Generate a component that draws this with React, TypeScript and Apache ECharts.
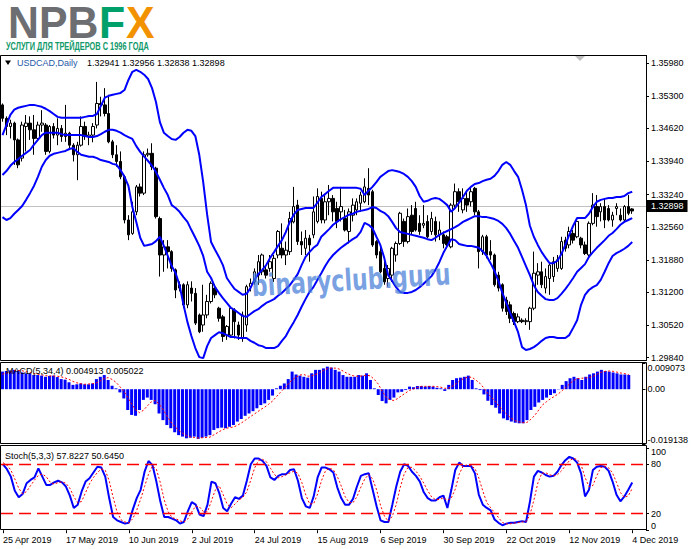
import React, { useEffect, useRef } from "react";
import * as echarts from "echarts";

const FONT = '"Liberation Sans", Arial, sans-serif';
const MONTHS = ["Jan", "Feb", "Mar", "Apr", "May", "Jun", "Jul", "Aug", "Sep", "Oct", "Nov", "Dec"];
const BAR_COUNT = 161;
const EMPTY_SLOTS = 3;
const EXTRA_SESSION = "3 Nov 2019"; // broker Sunday bar (DST switch)

const PRICE_TICKS = [1.2984, 1.3052, 1.312, 1.3188, 1.3256, 1.3324, 1.3394, 1.3462, 1.353, 1.3598];
const MACD_TICKS = [-0.019138, 0, 0.009073];
const MACD_TICK_LABELS = ["-0.019138", "0.00", "0.009073"];
const STOCH_TICKS = [0, 20, 80, 100];
const LAST_PRICE = 1.32898;

const opens = [
  1.3511, 1.3483, 1.3466, 1.3473, 1.3438, 1.34, 1.3466, 1.3473, 1.3459, 1.3441,
  1.3469, 1.3469, 1.3414, 1.3466, 1.3448, 1.3462, 1.3445, 1.3452, 1.3427, 1.3407,
  1.3427, 1.3466, 1.3445, 1.3448, 1.3469, 1.3514, 1.3511, 1.3493, 1.3434, 1.3407,
  1.3393, 1.3361, 1.3271, 1.3243, 1.3288, 1.334, 1.3327, 1.3407, 1.341, 1.3379,
  1.3274, 1.3198, 1.3215, 1.3205, 1.3167, 1.3129, 1.3136, 1.3094, 1.3129, 1.3118,
  1.3073, 1.3052, 1.3073, 1.3101, 1.3129, 1.3087, 1.3069, 1.3031, 1.3031, 1.3083,
  1.3052, 1.3024, 1.3052, 1.3132, 1.3142, 1.3156, 1.3163, 1.3167, 1.317, 1.3149,
  1.3198, 1.3212, 1.3198, 1.3205, 1.3267, 1.3302, 1.3226, 1.3212, 1.3233, 1.324,
  1.3268, 1.3316, 1.3271, 1.3309, 1.3316, 1.3295, 1.3288, 1.3274, 1.3247, 1.3281,
  1.3292, 1.3306, 1.3309, 1.3337, 1.333, 1.3226, 1.3205, 1.317, 1.3149, 1.3156,
  1.3198, 1.3222, 1.3268, 1.3226, 1.3281, 1.3295, 1.3264, 1.326, 1.3268, 1.3247,
  1.3268, 1.324, 1.324, 1.3236, 1.3215, 1.3302, 1.333, 1.3292, 1.3316, 1.3309,
  1.3337, 1.3288, 1.3205, 1.3236, 1.3205, 1.3198, 1.3156, 1.3136, 1.3104, 1.3094,
  1.3076, 1.3059, 1.3062, 1.3059, 1.3059, 1.3087, 1.3156, 1.3163, 1.3129, 1.3149,
  1.3153, 1.317, 1.317, 1.3229, 1.3219, 1.3243, 1.3236, 1.3233, 1.3219, 1.3198,
  1.3264, 1.3299, 1.3288, 1.3299, 1.3295, 1.3271, 1.3295, 1.3281, 1.3271, 1.3299,
  1.32941,
];
const closes = [
  1.3483, 1.3466, 1.3473, 1.3438, 1.3386, 1.3469, 1.3473, 1.3459, 1.3441, 1.3469,
  1.3473, 1.3414, 1.3466, 1.3448, 1.3462, 1.3445, 1.3452, 1.3427, 1.3407, 1.3427,
  1.3466, 1.3445, 1.3448, 1.3466, 1.3514, 1.3511, 1.3493, 1.3434, 1.3407, 1.3393,
  1.3361, 1.3271, 1.324, 1.3288, 1.334, 1.3327, 1.3407, 1.341, 1.3382, 1.3278,
  1.3198, 1.3215, 1.3205, 1.317, 1.3125, 1.3136, 1.3094, 1.3136, 1.3118, 1.3056,
  1.3038, 1.3073, 1.3101, 1.3139, 1.3115, 1.3066, 1.3028, 1.3049, 1.3087, 1.3059,
  1.3031, 1.3073, 1.3132, 1.3139, 1.3163, 1.3184, 1.3198, 1.3156, 1.3184, 1.3191,
  1.3247, 1.3198, 1.3208, 1.3274, 1.3299, 1.3226, 1.3219, 1.3233, 1.3219, 1.3288,
  1.332, 1.3271, 1.3309, 1.3316, 1.3288, 1.3268, 1.3299, 1.325, 1.3288, 1.3302,
  1.3309, 1.3323, 1.334, 1.3323, 1.3219, 1.3198, 1.3163, 1.3142, 1.317, 1.3212,
  1.3222, 1.3285, 1.3226, 1.3278, 1.3247, 1.325, 1.3247, 1.3264, 1.3236, 1.3274,
  1.324, 1.325, 1.3222, 1.3219, 1.3302, 1.333, 1.3309, 1.3316, 1.3302, 1.333,
  1.3288, 1.3205, 1.3236, 1.3198, 1.3198, 1.3136, 1.3129, 1.3087, 1.308, 1.3066,
  1.3059, 1.3069, 1.3059, 1.3061, 1.3087, 1.316, 1.3163, 1.3136, 1.3153, 1.3177,
  1.3184, 1.3188, 1.3226, 1.3212, 1.3247, 1.3229, 1.3268, 1.3219, 1.3201, 1.3264,
  1.3302, 1.3278, 1.3299, 1.3271, 1.3271, 1.3281, 1.3299, 1.3271, 1.3299, 1.3285,
  1.32898,
];
const lows = [
  1.3476, 1.3448, 1.3441, 1.3386, 1.3379, 1.3393, 1.3414, 1.3438, 1.3407, 1.3438,
  1.3455, 1.3407, 1.341, 1.3441, 1.3427, 1.3434, 1.3434, 1.342, 1.3393, 1.3354,
  1.3424, 1.3438, 1.3427, 1.3433, 1.3462, 1.3487, 1.3487, 1.3431, 1.34, 1.3382,
  1.3356, 1.3264, 1.3229, 1.324, 1.3281, 1.332, 1.3323, 1.3403, 1.3375, 1.3274,
  1.3153, 1.3163, 1.317, 1.3163, 1.3108, 1.3122, 1.3087, 1.3087, 1.3101, 1.3052,
  1.3035, 1.3038, 1.3066, 1.3097, 1.3108, 1.3059, 1.3017, 1.3021, 1.3028, 1.3024,
  1.3021, 1.3017, 1.3038, 1.3122, 1.3136, 1.3136, 1.3156, 1.3149, 1.3163, 1.3142,
  1.3191, 1.3191, 1.3177, 1.3198, 1.3264, 1.3219, 1.3198, 1.3198, 1.3184, 1.3233,
  1.3264, 1.3264, 1.3264, 1.3281, 1.3268, 1.3254, 1.3268, 1.3247, 1.3222, 1.3268,
  1.3281, 1.3288, 1.3306, 1.3302, 1.3215, 1.3191, 1.316, 1.3136, 1.3132, 1.3142,
  1.3184, 1.3219, 1.3215, 1.3222, 1.324, 1.3247, 1.324, 1.3254, 1.3233, 1.324,
  1.3226, 1.3229, 1.3212, 1.3212, 1.3212, 1.3295, 1.3288, 1.3285, 1.3288, 1.3299,
  1.3281, 1.317, 1.3198, 1.3191, 1.3188, 1.3132, 1.3122, 1.308, 1.3073, 1.3056,
  1.3052, 1.3056, 1.3056, 1.3052, 1.3042, 1.3083, 1.3136, 1.3129, 1.3118, 1.3115,
  1.3142, 1.3163, 1.3167, 1.3205, 1.3212, 1.3222, 1.3233, 1.3212, 1.3198, 1.3191,
  1.326, 1.3257, 1.3268, 1.3254, 1.3268, 1.3257, 1.3281, 1.3268, 1.3268, 1.3281,
  1.32838,
];
const highs = [
  1.3514, 1.3487, 1.348, 1.3476, 1.3441, 1.3476, 1.349, 1.3487, 1.349, 1.3476,
  1.35, 1.3473, 1.3469, 1.3473, 1.3483, 1.3469, 1.3511, 1.3455, 1.3431, 1.3434,
  1.3487, 1.3476, 1.3455, 1.3473, 1.3559, 1.3528, 1.3546, 1.3532, 1.3438, 1.3427,
  1.3414, 1.3365, 1.3281, 1.3309, 1.3344, 1.3347, 1.3414, 1.342, 1.3431, 1.3382,
  1.3278, 1.3229, 1.3229, 1.3208, 1.317, 1.3143, 1.3139, 1.3143, 1.3143, 1.3129,
  1.3076, 1.3136, 1.3115, 1.3143, 1.3136, 1.309, 1.3073, 1.3052, 1.309, 1.3087,
  1.3059, 1.308, 1.3136, 1.3149, 1.317, 1.3198, 1.3201, 1.3177, 1.3198, 1.3198,
  1.325, 1.3264, 1.3226, 1.3288, 1.334, 1.3313, 1.3247, 1.325, 1.324, 1.332,
  1.3337, 1.333, 1.3326, 1.3344, 1.3323, 1.3309, 1.334, 1.3292, 1.3295, 1.3316,
  1.3316, 1.333, 1.3358, 1.3379, 1.3334, 1.3229, 1.3215, 1.3191, 1.3177, 1.3215,
  1.3226, 1.3288, 1.3274, 1.3295, 1.3302, 1.3309, 1.3281, 1.3302, 1.3281, 1.3288,
  1.3278, 1.3268, 1.3247, 1.324, 1.3306, 1.3347, 1.3337, 1.3337, 1.333, 1.334,
  1.334, 1.3292, 1.324, 1.324, 1.3229, 1.3201, 1.3163, 1.3139, 1.3111, 1.3101,
  1.308, 1.3076, 1.3066, 1.3066, 1.309, 1.3205, 1.3181, 1.3184, 1.317, 1.3181,
  1.3194, 1.3198, 1.3236, 1.3236, 1.3257, 1.325, 1.3271, 1.3236, 1.3226, 1.3268,
  1.3327, 1.3323, 1.3306, 1.3316, 1.3302, 1.3288, 1.3306, 1.3295, 1.3302, 1.3323,
  1.32956,
];

const bandUpper = [
  1.3448, 1.3469, 1.349, 1.3501, 1.3505, 1.3507, 1.3509, 1.3511, 1.3511, 1.3509,
  1.3507, 1.3503, 1.3498, 1.3492, 1.3486, 1.3484, 1.3484, 1.3484, 1.3484, 1.3484,
  1.3484, 1.3486, 1.3488, 1.3488, 1.3492, 1.3509, 1.3526, 1.353, 1.3532, 1.3534,
  1.3536, 1.3542, 1.3563, 1.358, 1.3584, 1.358, 1.3574, 1.3565, 1.3546, 1.3517,
  1.3475, 1.3453, 1.3446, 1.344, 1.3438, 1.3444, 1.3453, 1.3459, 1.3457, 1.3446,
  1.3407, 1.335, 1.3282, 1.3225, 1.3209, 1.3194, 1.3177, 1.315, 1.3138, 1.3127,
  1.3121, 1.3115, 1.3117, 1.3129, 1.3146, 1.3158, 1.3167, 1.3177, 1.3192, 1.3204,
  1.3217, 1.3229, 1.3246, 1.3267, 1.3282, 1.3292, 1.3294, 1.3296, 1.3296, 1.3296,
  1.3307, 1.3319, 1.3325, 1.3332, 1.3338, 1.3338, 1.3338, 1.3338, 1.3338, 1.3338,
  1.3338, 1.3336, 1.3323, 1.3332, 1.334, 1.335, 1.3361, 1.3367, 1.3373, 1.3375,
  1.3373, 1.3371, 1.3367, 1.3361, 1.3352, 1.334, 1.3321, 1.3309, 1.3311, 1.3315,
  1.3317, 1.3315, 1.3309, 1.3302, 1.3288, 1.3296, 1.3307, 1.3319, 1.3332, 1.334,
  1.3346, 1.3348, 1.3352, 1.3355, 1.3357, 1.3363, 1.3373, 1.3386, 1.3392, 1.3386,
  1.3373, 1.3361, 1.3334, 1.3302, 1.3259, 1.3236, 1.3219, 1.3204, 1.3192, 1.3181,
  1.3181, 1.3186, 1.32, 1.3219, 1.324, 1.3259, 1.3275, 1.3275, 1.3275, 1.3284,
  1.3298, 1.3309, 1.3313, 1.3315, 1.3317, 1.3317, 1.3319, 1.3319, 1.3321, 1.3327,
  1.333,
];
const bandMiddle = [
  1.3365, 1.3373, 1.3384, 1.3392, 1.3398, 1.3405, 1.3411, 1.3417, 1.3428, 1.3438,
  1.3448, 1.3453, 1.3453, 1.3453, 1.3453, 1.345, 1.3448, 1.3448, 1.3448, 1.3448,
  1.3448, 1.3446, 1.3444, 1.3444, 1.3446, 1.345, 1.3455, 1.3459, 1.3459, 1.3457,
  1.3453, 1.3448, 1.3444, 1.344, 1.3425, 1.3413, 1.3403, 1.3394, 1.3384, 1.3371,
  1.3355, 1.3338, 1.3323, 1.3302, 1.3296, 1.3288, 1.3277, 1.3267, 1.325, 1.3234,
  1.3217, 1.3196, 1.3163, 1.315, 1.3131, 1.3119, 1.3108, 1.3098, 1.3088, 1.3083,
  1.3077, 1.3071, 1.3069, 1.3075, 1.3081, 1.3085, 1.3092, 1.3098, 1.3102, 1.3106,
  1.3113, 1.3119, 1.3127, 1.3135, 1.3146, 1.3158, 1.3177, 1.3194, 1.3204, 1.3213,
  1.3219, 1.3236, 1.3244, 1.3252, 1.3261, 1.3267, 1.3273, 1.3277, 1.3282, 1.3284,
  1.3288, 1.329, 1.3292, 1.3294, 1.3298, 1.3296, 1.329, 1.3286, 1.3279, 1.3267,
  1.3254, 1.3246, 1.3244, 1.3242, 1.324, 1.3238, 1.3236, 1.3234, 1.3231, 1.3229,
  1.3234, 1.324, 1.3244, 1.3248, 1.3252, 1.3256, 1.3261, 1.3267, 1.3271, 1.3275,
  1.3279, 1.3279, 1.3277, 1.3277, 1.3275, 1.3273, 1.3269, 1.3263, 1.3254, 1.3242,
  1.3227, 1.3213, 1.3194, 1.3175, 1.3156, 1.3135, 1.3121, 1.3113, 1.3106, 1.3104,
  1.3104, 1.3108, 1.3117, 1.3127, 1.3138, 1.315, 1.3163, 1.3171, 1.3179, 1.3194,
  1.3204, 1.3213, 1.3221, 1.3229, 1.3238, 1.3244, 1.3252, 1.3261, 1.3267, 1.3271,
  1.3275,
];
const bandLower = [
  1.3277, 1.3271, 1.3275, 1.3284, 1.3292, 1.33, 1.3313, 1.3327, 1.3342, 1.3361,
  1.3382, 1.3396, 1.3405, 1.3409, 1.3411, 1.3413, 1.3415, 1.3419, 1.3421, 1.3413,
  1.3407, 1.3405, 1.3403, 1.3403, 1.34, 1.3396, 1.3394, 1.3392, 1.3388, 1.3386,
  1.3375, 1.3361, 1.3342, 1.3298, 1.3267, 1.3234, 1.3217, 1.3219, 1.3221, 1.3227,
  1.3236, 1.3217, 1.3196, 1.3175, 1.316, 1.3135, 1.3094, 1.3058, 1.3029, 1.3004,
  1.2985, 1.2983, 1.3008, 1.3025, 1.3031, 1.3037, 1.3035, 1.3031, 1.3027, 1.3027,
  1.3025, 1.3025, 1.3025, 1.3019, 1.3015, 1.301, 1.3008, 1.3004, 1.3004, 1.3004,
  1.3008, 1.3019, 1.3029, 1.3044, 1.3058, 1.3073, 1.309, 1.3106, 1.3121, 1.3131,
  1.3146, 1.316, 1.3175, 1.3188, 1.3198, 1.3206, 1.3213, 1.3219, 1.3225, 1.3231,
  1.3236, 1.3246, 1.3265, 1.3261, 1.3254, 1.3236, 1.3219, 1.3192, 1.3156, 1.3144,
  1.3131, 1.3121, 1.3119, 1.3119, 1.3121, 1.3125, 1.3131, 1.3138, 1.3146, 1.3154,
  1.3167, 1.3183, 1.3202, 1.3217, 1.3231, 1.3229, 1.3221, 1.3219, 1.3217, 1.3217,
  1.3215, 1.3213, 1.3206, 1.3196, 1.3181, 1.3165, 1.3144, 1.3119, 1.3098, 1.3077,
  1.3058, 1.3037, 1.3006, 1.3, 1.3002, 1.3006, 1.3012, 1.3019, 1.3025, 1.3027,
  1.3027, 1.3025, 1.3025, 1.3025, 1.3031, 1.3046, 1.3062, 1.3094, 1.3115, 1.3125,
  1.3131, 1.3135, 1.3146, 1.3163, 1.3181, 1.3196, 1.3202, 1.3206, 1.3211, 1.3217,
  1.3225,
];

const macdHist = [
  0.0061, 0.0063, 0.0065, 0.0067, 0.0064, 0.0058, 0.0055, 0.0053, 0.0049, 0.0049,
  0.0047, 0.0043, 0.0046, 0.0047, 0.0042, 0.0035, 0.0033, 0.0024, 0.0015, 0.0017,
  0.002, 0.0017, 0.0017, 0.002, 0.0035, 0.0043, 0.0049, 0.0032, 0.0012, 0.0003,
  -0.0011, -0.0032, -0.0072, -0.0089, -0.0092, -0.0072, -0.0037, -0.0029, -0.0037, -0.0052,
  -0.0084, -0.0107, -0.0124, -0.0135, -0.0149, -0.0159, -0.0164, -0.017, -0.0168, -0.0164,
  -0.0172, -0.0168, -0.0164, -0.0159, -0.0141, -0.0135, -0.0133, -0.0135, -0.013, -0.0124,
  -0.0112, -0.0103, -0.0092, -0.0084, -0.0076, -0.0066, -0.0055, -0.0049, -0.0037, -0.0022,
  0.0003, 0.0012, 0.002, 0.0035, 0.0061, 0.0051, 0.0047, 0.0043, 0.004, 0.0055,
  0.0067, 0.0067, 0.0072, 0.0078, 0.0075, 0.0067, 0.0061, 0.0049, 0.0043, 0.0043,
  0.0043, 0.0049, 0.0047, 0.0055, 0.0032, 0.0003, -0.002, -0.0041, -0.0049, -0.0037,
  -0.0029, -0.0011, -0.0009, -0.0003, 0.0009, 0.0007, 0.0011, 0.0011, 0.0009, 0.0011,
  0.0009, 0.0005, 0.0003, -0.0006, 0.0015, 0.0032, 0.0038, 0.004, 0.0043, 0.0047,
  0.0032, 0.0003, -0.0003, -0.0018, -0.004, -0.0055, -0.0064, -0.0084, -0.0101, -0.0107,
  -0.0112, -0.0116, -0.0118, -0.0118, -0.0107, -0.0072, -0.0061, -0.0046, -0.0037, -0.0029,
  -0.002, -0.0014, -0.0001, 0.0015, 0.0028, 0.0038, 0.0043, 0.0038, 0.0032, 0.0043,
  0.0051, 0.0055, 0.0061, 0.0067, 0.0063, 0.0061, 0.0058, 0.0055, 0.0051, 0.0051,
  0.004913,
];
const macdSignal = [
  0.0052, 0.0056, 0.0059, 0.0064, 0.0065, 0.0064, 0.0061, 0.0058, 0.0054, 0.0052,
  0.005, 0.0047, 0.0046, 0.0046, 0.0045, 0.0043, 0.0039, 0.0034, 0.0027, 0.0022,
  0.0019, 0.0017, 0.0018, 0.0019, 0.0022, 0.0029, 0.0037, 0.004, 0.0034, 0.0024,
  0.0009, -0.0007, -0.0028, -0.0051, -0.0071, -0.0081, -0.0073, -0.0058, -0.0044, -0.0039,
  -0.0051, -0.007, -0.0092, -0.0113, -0.0129, -0.0142, -0.0152, -0.0161, -0.0165, -0.0167,
  -0.0169, -0.0168, -0.0167, -0.0166, -0.0158, -0.015, -0.0142, -0.0136, -0.0133, -0.0131,
  -0.0125, -0.0117, -0.0108, -0.0098, -0.0089, -0.008, -0.007, -0.0062, -0.0052, -0.0041,
  -0.0026, -0.0011, 0.0003, 0.0018, 0.0032, 0.0042, 0.0049, 0.0051, 0.0045, 0.0046,
  0.0051, 0.0057, 0.0065, 0.0071, 0.0073, 0.0073, 0.007, 0.0063, 0.0055, 0.0049,
  0.0045, 0.0045, 0.0046, 0.0049, 0.0046, 0.0034, 0.0018, -0.0007, -0.0027, -0.0037,
  -0.0039, -0.0032, -0.0022, -0.0013, -0.0004, 0.0001, 0.0006, 0.001, 0.001, 0.001,
  0.001, 0.0009, 0.0007, 0.0003, 0.0004, 0.0011, 0.002, 0.0031, 0.0038, 0.0042,
  0.0041, 0.0031, 0.002, 0.0004, -0.0015, -0.0029, -0.0044, -0.0061, -0.0076, -0.0089,
  -0.0101, -0.0109, -0.0113, -0.0116, -0.0115, -0.0104, -0.009, -0.0072, -0.0054, -0.0043,
  -0.0033, -0.0025, -0.0016, -0.0005, 0.0007, 0.002, 0.0031, 0.0037, 0.0038, 0.0039,
  0.0041, 0.0045, 0.0053, 0.0059, 0.0062, 0.0063, 0.0062, 0.0059, 0.0056, 0.0054,
  0.005022,
];

const stochMain = [
  80, 74, 65, 48, 40, 44, 57, 61, 64, 75,
  65, 55, 55, 58, 60, 58, 53, 42, 27, 31,
  47, 59, 63, 70, 77, 76, 65, 39, 16, 12,
  10, 8, 9, 25, 39, 49, 71, 84, 79, 59,
  35, 16, 16, 14, 12, 8, 10, 23, 34, 31,
  19, 17, 31, 59, 57, 45, 27, 23, 32, 40,
  38, 42, 60, 80, 87, 87, 84, 78, 64, 61,
  66, 68, 68, 73, 74, 60, 39, 29, 27, 41,
  64, 76, 76, 74, 70, 52, 39, 31, 31, 38,
  53, 66, 68, 69, 49, 29, 12, 10, 10, 31,
  53, 71, 80, 78, 71, 66, 59, 46, 39, 36,
  36, 40, 42, 27, 49, 73, 82, 78, 78, 78,
  69, 43, 31, 27, 24, 13, 9, 6, 8, 9,
  9, 10, 11, 10, 35, 65, 72, 70, 67, 65,
  66, 71, 79, 85, 89, 87, 82, 69, 41, 49,
  73, 77, 78, 77, 72, 59, 43, 35, 41, 49,
  57.8227,
];
const stochSignal = [
  82, 79, 73, 62.3, 51, 44, 47, 54, 60.7, 66.7,
  68, 65, 58.3, 56, 57.7, 58.7, 57, 51, 40.7, 33.3,
  35, 45.7, 56.3, 64, 70, 74.3, 72.7, 60, 40, 22.3,
  12.7, 10, 9, 14, 24.3, 37.7, 53, 68, 78, 74,
  57.7, 36.7, 22.3, 15.3, 14, 11.3, 10, 13.7, 22.3, 29.3,
  28, 22.3, 22.3, 35.7, 49, 53.7, 43, 31.7, 27.3, 31.7,
  36.7, 40, 46.7, 60.7, 75.7, 84.7, 86, 83, 75.3, 67.7,
  63.7, 65, 67.3, 69.7, 71.7, 69, 57.7, 42.7, 31.7, 32.3,
  44, 60.3, 72, 75.3, 73.3, 65.3, 53.7, 40.7, 33.7, 33.3,
  40.7, 52.3, 62.3, 67.7, 62, 49, 30, 17, 10.7, 17,
  31.3, 51.7, 68, 76.3, 76.3, 71.7, 65.3, 57, 48, 40.3,
  37, 37.3, 39.3, 36.3, 39.3, 49.7, 68, 77.7, 79.3, 78,
  75, 63.3, 47.7, 33.7, 27.3, 21.3, 15.3, 9.3, 7.7, 7.7,
  8.7, 9.3, 10, 10.3, 18.7, 36.7, 57.3, 69, 69.7, 67.3,
  66, 67.3, 72, 78.3, 84.3, 87, 86, 79.3, 64, 53,
  54.3, 66.3, 76, 77.3, 75.7, 69.3, 58, 45.7, 39.7, 41.7,
  50.645,
];

function tradingDays(): string[] {
  const out: string[] = [];
  let t = Date.UTC(2019, 3, 25);
  while (out.length < BAR_COUNT) {
    const d = new Date(t);
    const wd = d.getUTCDay();
    const label = `${d.getUTCDate()} ${MONTHS[d.getUTCMonth()]} ${d.getUTCFullYear()}`;
    if ((wd !== 0 && wd !== 6) || label === EXTRA_SESSION) out.push(label);
    t += 86400000;
  }
  for (let i = 0; i < EMPTY_SLOTS; i++) out.push("");
  return out;
}

const GRID_LEFT = 0.5;
const GRID_WIDTH = 645.5;

export default function App() {
  const ref = useRef<HTMLDivElement>(null);

  useEffect(() => {
    if (!ref.current) return;
    const chart = echarts.init(ref.current, null, { renderer: "svg" });
    const cats = tradingDays();
    const candles = opens.map((o, i) => [o, closes[i], lows[i], highs[i]]);

    const hiddenX = (gi: number) => ({
      type: "category",
      gridIndex: gi,
      data: cats,
      boundaryGap: true,
      axisLine: { show: false },
      axisTick: { show: false },
      axisLabel: { show: false },
      splitLine: { show: false },
    });

    const baseLabel = { color: "#000", fontSize: 9, fontFamily: FONT, margin: 5 };
    const blueLine = (name: string, data: number[], xi: number, yi: number) => ({
      name,
      type: "line",
      xAxisIndex: xi,
      yAxisIndex: yi,
      data,
      symbol: "none",
      silent: true,
      lineStyle: { color: "#0000ff", width: 2 },
      z: 4,
    });
    const redDots = (name: string, data: number[], xi: number, yi: number) => ({
      name,
      type: "line",
      xAxisIndex: xi,
      yAxisIndex: yi,
      data,
      symbol: "none",
      silent: true,
      lineStyle: { color: "#ff0000", width: 1, type: [2, 2] },
      z: 5,
    });

    const frame = (y: number, h: number) => ({
      type: "rect",
      silent: true,
      z: 50,
      shape: { x: 0.5, y, width: 646, height: h },
      style: { fill: "none", stroke: "#000", lineWidth: 1 },
    });
    const txt = (x: number, y: number, text: string, font: string, fill: string, extra: any = {}) => ({
      type: "text",
      x,
      y,
      silent: true,
      z: 60,
      ...extra,
      style: { text, font, fill, textAlign: "left", textVerticalAlign: "middle", align: "left", verticalAlign: "middle" },
    });
    const LOGO_FONT = `bold 40px ${FONT}`;

    chart.setOption({
      animation: false,
      backgroundColor: "#ffffff",
      textStyle: { fontFamily: FONT },
      grid: [
        { left: GRID_LEFT, width: GRID_WIDTH, top: 55.5, height: 305 },
        { left: GRID_LEFT, width: GRID_WIDTH, top: 363, height: 81.5 },
        { left: GRID_LEFT, width: GRID_WIDTH, top: 447.8, height: 82.4 },
      ],
      xAxis: [
        hiddenX(0),
        hiddenX(1),
        {
          type: "category",
          gridIndex: 2,
          data: cats,
          boundaryGap: true,
          axisLine: { show: false },
          axisTick: { show: true, interval: 15, alignWithLabel: true, length: 3, lineStyle: { color: "#000" } },
          axisLabel: { ...baseLabel, interval: 15, align: "left", margin: 5 },
          splitLine: { show: false },
        },
      ],
      yAxis: [
        {
          type: "value",
          gridIndex: 0,
          position: "right",
          min: 1.2978,
          max: 1.3614,
          axisLine: { show: true, lineStyle: { color: "#000" } },
          axisTick: { show: true, length: 3, customValues: PRICE_TICKS, lineStyle: { color: "#000" } },
          axisLabel: { ...baseLabel, customValues: PRICE_TICKS, formatter: (v: number) => v.toFixed(5) },
          splitLine: { show: false },
        },
        {
          type: "value",
          gridIndex: 1,
          position: "right",
          min: -0.019138,
          max: 0.009073,
          axisLine: { show: true, lineStyle: { color: "#000" } },
          axisTick: { show: true, length: 3, customValues: MACD_TICKS, lineStyle: { color: "#000" } },
          axisLabel: {
            ...baseLabel,
            customValues: MACD_TICKS,
            verticalAlignMinLabel: "bottom",
            verticalAlignMaxLabel: "top",
            formatter: (v: number) => {
              const i = MACD_TICKS.findIndex((t) => Math.abs(t - v) < 1e-9);
              return i >= 0 ? MACD_TICK_LABELS[i] : "";
            },
          },
          splitLine: { show: false },
        },
        {
          type: "value",
          gridIndex: 2,
          position: "right",
          min: 0,
          max: 100,
          axisLine: { show: true, lineStyle: { color: "#000" } },
          axisTick: { show: true, length: 3, customValues: STOCH_TICKS, lineStyle: { color: "#000" } },
          axisLabel: {
            ...baseLabel,
            customValues: STOCH_TICKS,
            verticalAlignMinLabel: "bottom",
            verticalAlignMaxLabel: "top",
          },
          splitLine: { show: false },
        },
      ],
      series: [
        {
          name: "USDCAD",
          type: "candlestick",
          xAxisIndex: 0,
          yAxisIndex: 0,
          data: candles,
          barWidth: 3,
          silent: true,
          itemStyle: { color: "#ffffff", color0: "#000000", borderColor: "#000000", borderColor0: "#000000", borderWidth: 1 },
          markLine: {
            silent: true,
            symbol: ["none", "none"],
            animation: false,
            lineStyle: { color: "#c0c0c0", type: "solid", width: 1 },
            label: {
              show: true,
              position: "end",
              distance: 1,
              formatter: LAST_PRICE.toFixed(5),
              color: "#ffffff",
              backgroundColor: "#000000",
              padding: [2, 4, 1, 4],
              fontSize: 9,
              fontFamily: FONT,
            },
            data: [{ yAxis: LAST_PRICE }],
            z: 1,
          },
          z: 3,
        },
        blueLine("BB upper", bandUpper, 0, 0),
        blueLine("BB middle", bandMiddle, 0, 0),
        blueLine("BB lower", bandLower, 0, 0),
        {
          name: "MACD",
          type: "bar",
          xAxisIndex: 1,
          yAxisIndex: 1,
          data: macdHist,
          barWidth: 3,
          silent: true,
          itemStyle: { color: "#0000ff" },
        },
        redDots("MACD signal", macdSignal, 1, 1),
        {
          ...blueLine("Stoch main", stochMain, 2, 2),
          markLine: {
            silent: true,
            symbol: ["none", "none"],
            animation: false,
            label: { show: false },
            lineStyle: { color: "#ff0000", type: [12, 6], width: 1.3 },
            data: [{ yAxis: 80 }, { yAxis: 20 }],
          },
        },
        redDots("Stoch signal", stochSignal, 2, 2),
      ],
      graphic: [
        frame(55.5, 305),
        frame(362.5, 81),
        frame(445.5, 84),
        {
          type: "polygon",
          silent: true,
          z: 60,
          shape: { points: [[575, 56], [585, 56], [580, 61]] },
          style: { fill: "#c0c0c0" },
        },
        {
          type: "polygon",
          silent: true,
          z: 60,
          shape: { points: [[5, 60.5], [11, 60.5], [8, 65]] },
          style: { fill: "#000" },
        },
        txt(8, 23, "NPB", LOGO_FONT, "#6d6e71", { scaleX: 1.07, scaleY: 1.1 }),
        txt(99, 23, "F", LOGO_FONT, "#00a06a", { scaleX: 1.07, scaleY: 1.1 }),
        txt(126, 23, "X", LOGO_FONT, "#f39200", { scaleX: 1.07, scaleY: 1.1 }),
        txt(6, 47, "УСЛУГИ ДЛЯ ТРЕЙДЕРОВ С 1996 ГОДА", `bold 10px ${FONT}`, "#10996a", { scaleX: 0.74 }),
        txt(17, 63, "USDCAD,Daily", `9px ${FONT}`, "#1f5aa8"),
        txt(87, 63, "1.32941 1.32956 1.32838 1.32898", `9px ${FONT}`, "#000"),
        txt(6, 371, "MACD(5,34,4) 0.004913 0.005022", `9px ${FONT}`, "#000"),
        txt(5, 456, "Stoch(5,3,3) 57.8227 50.6450", `9px ${FONT}`, "#000"),
        {
          type: "text",
          x: 351,
          y: 280,
          rotation: 0.06,
          scaleX: 0.74,
          silent: true,
          z: 70,
          style: {
            text: "binaryclub.guru",
            font: `bold 30px "DejaVu Sans", sans-serif`,
            fill: "rgba(70,125,215,0.72)",
            textAlign: "center",
            textVerticalAlign: "middle",
            align: "center",
            verticalAlign: "middle",
          },
        },
      ],
    });

    return () => chart.dispose();
  }, []);

  return (
    <div
      ref={ref}
      style={{ position: "absolute", left: 0, top: 0, width: 691, height: 549, background: "#fff" }}
    />
  );
}
